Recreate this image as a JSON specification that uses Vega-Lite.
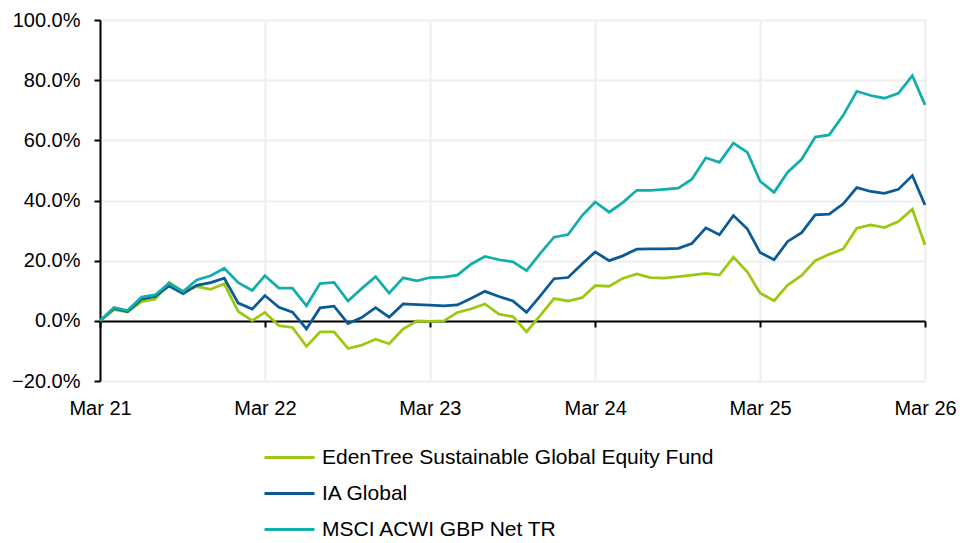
{
  "$schema": "https://vega.github.io/schema/vega-lite/v6.json",
  "width": 825,
  "height": 361,
  "autosize": "none",
  "padding": {"left": 100, "top": 20, "right": 49, "bottom": 162},
  "background": "white",
  "config": {
    "view": {"stroke": null},
    "font": "Liberation Sans"
  },
  "data": {
    "values": [
      {"date": "2021-03-01", "EdenTree Sustainable Global Equity Fund": 0, "IA Global": 0, "MSCI ACWI GBP Net TR": 0},
      {"date": "2021-04-01", "EdenTree Sustainable Global Equity Fund": 3.7, "IA Global": 4.1, "MSCI ACWI GBP Net TR": 4.4},
      {"date": "2021-05-01", "EdenTree Sustainable Global Equity Fund": 2.9, "IA Global": 3.1, "MSCI ACWI GBP Net TR": 3.4},
      {"date": "2021-06-01", "EdenTree Sustainable Global Equity Fund": 6.4, "IA Global": 7.2, "MSCI ACWI GBP Net TR": 7.9},
      {"date": "2021-07-01", "EdenTree Sustainable Global Equity Fund": 7.2, "IA Global": 8.1, "MSCI ACWI GBP Net TR": 8.6},
      {"date": "2021-08-01", "EdenTree Sustainable Global Equity Fund": 12.8, "IA Global": 11.6, "MSCI ACWI GBP Net TR": 12.5},
      {"date": "2021-09-01", "EdenTree Sustainable Global Equity Fund": 9.7, "IA Global": 9.0, "MSCI ACWI GBP Net TR": 9.7},
      {"date": "2021-10-01", "EdenTree Sustainable Global Equity Fund": 11.4, "IA Global": 11.8, "MSCI ACWI GBP Net TR": 13.6},
      {"date": "2021-11-01", "EdenTree Sustainable Global Equity Fund": 10.5, "IA Global": 12.7, "MSCI ACWI GBP Net TR": 15.0},
      {"date": "2021-12-01", "EdenTree Sustainable Global Equity Fund": 12.3, "IA Global": 14.2, "MSCI ACWI GBP Net TR": 17.5},
      {"date": "2022-01-01", "EdenTree Sustainable Global Equity Fund": 3.1, "IA Global": 5.9, "MSCI ACWI GBP Net TR": 12.7},
      {"date": "2022-02-01", "EdenTree Sustainable Global Equity Fund": 0.1, "IA Global": 3.9, "MSCI ACWI GBP Net TR": 10.1},
      {"date": "2022-03-01", "EdenTree Sustainable Global Equity Fund": 2.8, "IA Global": 8.4, "MSCI ACWI GBP Net TR": 15.0},
      {"date": "2022-04-01", "EdenTree Sustainable Global Equity Fund": -1.6, "IA Global": 4.5, "MSCI ACWI GBP Net TR": 10.9},
      {"date": "2022-05-01", "EdenTree Sustainable Global Equity Fund": -2.2, "IA Global": 2.9, "MSCI ACWI GBP Net TR": 10.9},
      {"date": "2022-06-01", "EdenTree Sustainable Global Equity Fund": -8.5, "IA Global": -2.7, "MSCI ACWI GBP Net TR": 5.0},
      {"date": "2022-07-01", "EdenTree Sustainable Global Equity Fund": -3.7, "IA Global": 4.3, "MSCI ACWI GBP Net TR": 12.4},
      {"date": "2022-08-01", "EdenTree Sustainable Global Equity Fund": -3.7, "IA Global": 4.9, "MSCI ACWI GBP Net TR": 12.8},
      {"date": "2022-09-01", "EdenTree Sustainable Global Equity Fund": -9.2, "IA Global": -0.9, "MSCI ACWI GBP Net TR": 6.6},
      {"date": "2022-10-01", "EdenTree Sustainable Global Equity Fund": -8.1, "IA Global": 1.1, "MSCI ACWI GBP Net TR": 10.7},
      {"date": "2022-11-01", "EdenTree Sustainable Global Equity Fund": -6.1, "IA Global": 4.4, "MSCI ACWI GBP Net TR": 14.7},
      {"date": "2022-12-01", "EdenTree Sustainable Global Equity Fund": -7.6, "IA Global": 1.2, "MSCI ACWI GBP Net TR": 9.2},
      {"date": "2023-01-01", "EdenTree Sustainable Global Equity Fund": -2.7, "IA Global": 5.6, "MSCI ACWI GBP Net TR": 14.3},
      {"date": "2023-02-01", "EdenTree Sustainable Global Equity Fund": 0.0, "IA Global": 5.4, "MSCI ACWI GBP Net TR": 13.3},
      {"date": "2023-03-01", "EdenTree Sustainable Global Equity Fund": -0.2, "IA Global": 5.2, "MSCI ACWI GBP Net TR": 14.4},
      {"date": "2023-04-01", "EdenTree Sustainable Global Equity Fund": 0.0, "IA Global": 5.0, "MSCI ACWI GBP Net TR": 14.5},
      {"date": "2023-05-01", "EdenTree Sustainable Global Equity Fund": 2.8, "IA Global": 5.3, "MSCI ACWI GBP Net TR": 15.2},
      {"date": "2023-06-01", "EdenTree Sustainable Global Equity Fund": 4.0, "IA Global": 7.5, "MSCI ACWI GBP Net TR": 18.9},
      {"date": "2023-07-01", "EdenTree Sustainable Global Equity Fund": 5.6, "IA Global": 9.8, "MSCI ACWI GBP Net TR": 21.4},
      {"date": "2023-08-01", "EdenTree Sustainable Global Equity Fund": 2.2, "IA Global": 8.1, "MSCI ACWI GBP Net TR": 20.3},
      {"date": "2023-09-01", "EdenTree Sustainable Global Equity Fund": 1.4, "IA Global": 6.6, "MSCI ACWI GBP Net TR": 19.6},
      {"date": "2023-10-01", "EdenTree Sustainable Global Equity Fund": -3.7, "IA Global": 2.8, "MSCI ACWI GBP Net TR": 16.7},
      {"date": "2023-11-01", "EdenTree Sustainable Global Equity Fund": 1.9, "IA Global": 8.4, "MSCI ACWI GBP Net TR": 22.5},
      {"date": "2023-12-01", "EdenTree Sustainable Global Equity Fund": 7.4, "IA Global": 14.0, "MSCI ACWI GBP Net TR": 27.8},
      {"date": "2024-01-01", "EdenTree Sustainable Global Equity Fund": 6.6, "IA Global": 14.4, "MSCI ACWI GBP Net TR": 28.7},
      {"date": "2024-02-01", "EdenTree Sustainable Global Equity Fund": 7.7, "IA Global": 18.9, "MSCI ACWI GBP Net TR": 35.0},
      {"date": "2024-03-01", "EdenTree Sustainable Global Equity Fund": 11.7, "IA Global": 22.9, "MSCI ACWI GBP Net TR": 39.5},
      {"date": "2024-04-01", "EdenTree Sustainable Global Equity Fund": 11.5, "IA Global": 20.0, "MSCI ACWI GBP Net TR": 36.1},
      {"date": "2024-05-01", "EdenTree Sustainable Global Equity Fund": 14.1, "IA Global": 21.6, "MSCI ACWI GBP Net TR": 39.3},
      {"date": "2024-06-01", "EdenTree Sustainable Global Equity Fund": 15.6, "IA Global": 23.8, "MSCI ACWI GBP Net TR": 43.4},
      {"date": "2024-07-01", "EdenTree Sustainable Global Equity Fund": 14.4, "IA Global": 23.9, "MSCI ACWI GBP Net TR": 43.4},
      {"date": "2024-08-01", "EdenTree Sustainable Global Equity Fund": 14.2, "IA Global": 23.9, "MSCI ACWI GBP Net TR": 43.7},
      {"date": "2024-09-01", "EdenTree Sustainable Global Equity Fund": 14.7, "IA Global": 24.1, "MSCI ACWI GBP Net TR": 44.1},
      {"date": "2024-10-01", "EdenTree Sustainable Global Equity Fund": 15.2, "IA Global": 25.7, "MSCI ACWI GBP Net TR": 47.1},
      {"date": "2024-11-01", "EdenTree Sustainable Global Equity Fund": 15.8, "IA Global": 30.9, "MSCI ACWI GBP Net TR": 54.2},
      {"date": "2024-12-01", "EdenTree Sustainable Global Equity Fund": 15.2, "IA Global": 28.6, "MSCI ACWI GBP Net TR": 52.7},
      {"date": "2025-01-01", "EdenTree Sustainable Global Equity Fund": 21.2, "IA Global": 35.0, "MSCI ACWI GBP Net TR": 59.1},
      {"date": "2025-02-01", "EdenTree Sustainable Global Equity Fund": 16.2, "IA Global": 30.5, "MSCI ACWI GBP Net TR": 56.0},
      {"date": "2025-03-01", "EdenTree Sustainable Global Equity Fund": 9.2, "IA Global": 22.7, "MSCI ACWI GBP Net TR": 46.4},
      {"date": "2025-04-01", "EdenTree Sustainable Global Equity Fund": 6.7, "IA Global": 20.3, "MSCI ACWI GBP Net TR": 42.7},
      {"date": "2025-05-01", "EdenTree Sustainable Global Equity Fund": 11.9, "IA Global": 26.4, "MSCI ACWI GBP Net TR": 49.4},
      {"date": "2025-06-01", "EdenTree Sustainable Global Equity Fund": 15.1, "IA Global": 29.3, "MSCI ACWI GBP Net TR": 53.7},
      {"date": "2025-07-01", "EdenTree Sustainable Global Equity Fund": 20.0, "IA Global": 35.2, "MSCI ACWI GBP Net TR": 61.1},
      {"date": "2025-08-01", "EdenTree Sustainable Global Equity Fund": 22.1, "IA Global": 35.5, "MSCI ACWI GBP Net TR": 61.8},
      {"date": "2025-09-01", "EdenTree Sustainable Global Equity Fund": 23.9, "IA Global": 38.9, "MSCI ACWI GBP Net TR": 68.3},
      {"date": "2025-10-01", "EdenTree Sustainable Global Equity Fund": 30.8, "IA Global": 44.3, "MSCI ACWI GBP Net TR": 76.3},
      {"date": "2025-11-01", "EdenTree Sustainable Global Equity Fund": 31.9, "IA Global": 43.0, "MSCI ACWI GBP Net TR": 74.9},
      {"date": "2025-12-01", "EdenTree Sustainable Global Equity Fund": 31.0, "IA Global": 42.4, "MSCI ACWI GBP Net TR": 74.0},
      {"date": "2026-01-01", "EdenTree Sustainable Global Equity Fund": 33.0, "IA Global": 43.7, "MSCI ACWI GBP Net TR": 75.6},
      {"date": "2026-02-01", "EdenTree Sustainable Global Equity Fund": 37.1, "IA Global": 48.3, "MSCI ACWI GBP Net TR": 81.5},
      {"date": "2026-03-01", "EdenTree Sustainable Global Equity Fund": 25.2, "IA Global": 38.5, "MSCI ACWI GBP Net TR": 71.8}
    ]
  },
  "transform": [
    {"fold": ["EdenTree Sustainable Global Equity Fund", "IA Global", "MSCI ACWI GBP Net TR"], "as": ["series", "value"]}
  ],
  "mark": {"type": "line", "strokeWidth": 2.75, "strokeJoin": "miter"},
  "encoding": {
    "x": {
      "field": "date",
      "type": "temporal",
      "title": null,
      "scale": {"type": "utc", "domain": [{"year": 2021, "month": 3, "date": 1, "utc": true}, {"year": 2026, "month": 3, "date": 1, "utc": true}], "nice": false},
      "axis": {
        "values": [
          {"year": 2021, "month": 3, "date": 1, "utc": true},
          {"year": 2022, "month": 3, "date": 1, "utc": true},
          {"year": 2023, "month": 3, "date": 1, "utc": true},
          {"year": 2024, "month": 3, "date": 1, "utc": true},
          {"year": 2025, "month": 3, "date": 1, "utc": true},
          {"year": 2026, "month": 3, "date": 1, "utc": true}
        ],
        "format": "%b %y",
        "offset": -60,
        "domainColor": "#000000",
        "domainWidth": 2,
        "tickColor": "#000000",
        "tickWidth": 2,
        "tickSize": 6,
        "labelPadding": 71,
        "labelFont": "Liberation Sans",
        "labelFontSize": 20,
        "labelColor": "#000000",
        "labelFlush": false,
        "labelOverlap": false,
        "grid": true,
        "gridColor": "#eeeeee",
        "gridWidth": 2
      }
    },
    "y": {
      "field": "value",
      "type": "quantitative",
      "title": null,
      "scale": {"domain": [-20, 100], "nice": false},
      "axis": {
        "values": [-20, 0, 20, 40, 60, 80, 100],
        "labelExpr": "format(datum.value, '.1f') + '%'",
        "domainColor": "#000000",
        "domainWidth": 2,
        "tickColor": "#000000",
        "tickWidth": 2,
        "tickSize": 6,
        "labelPadding": 14,
        "labelFont": "Liberation Sans",
        "labelFontSize": 20,
        "labelColor": "#000000",
        "grid": true,
        "gridColor": "#eeeeee",
        "gridWidth": 2
      }
    },
    "color": {
      "field": "series",
      "type": "nominal",
      "title": null,
      "scale": {
        "domain": ["EdenTree Sustainable Global Equity Fund", "IA Global", "MSCI ACWI GBP Net TR"],
        "range": ["#9cc812", "#0a5a96", "#12aeab"]
      },
      "legend": {
        "orient": "none",
        "legendX": 163,
        "legendY": 427,
        "direction": "vertical",
        "symbolType": "stroke",
        "symbolSize": 2500,
        "symbolStrokeWidth": 3,
        "clipHeight": 21,
        "labelFont": "Liberation Sans",
        "labelFontSize": 21,
        "labelColor": "#000000",
        "labelOffset": 6,
        "labelLimit": 600,
        "rowPadding": 14
      }
    }
  }
}
